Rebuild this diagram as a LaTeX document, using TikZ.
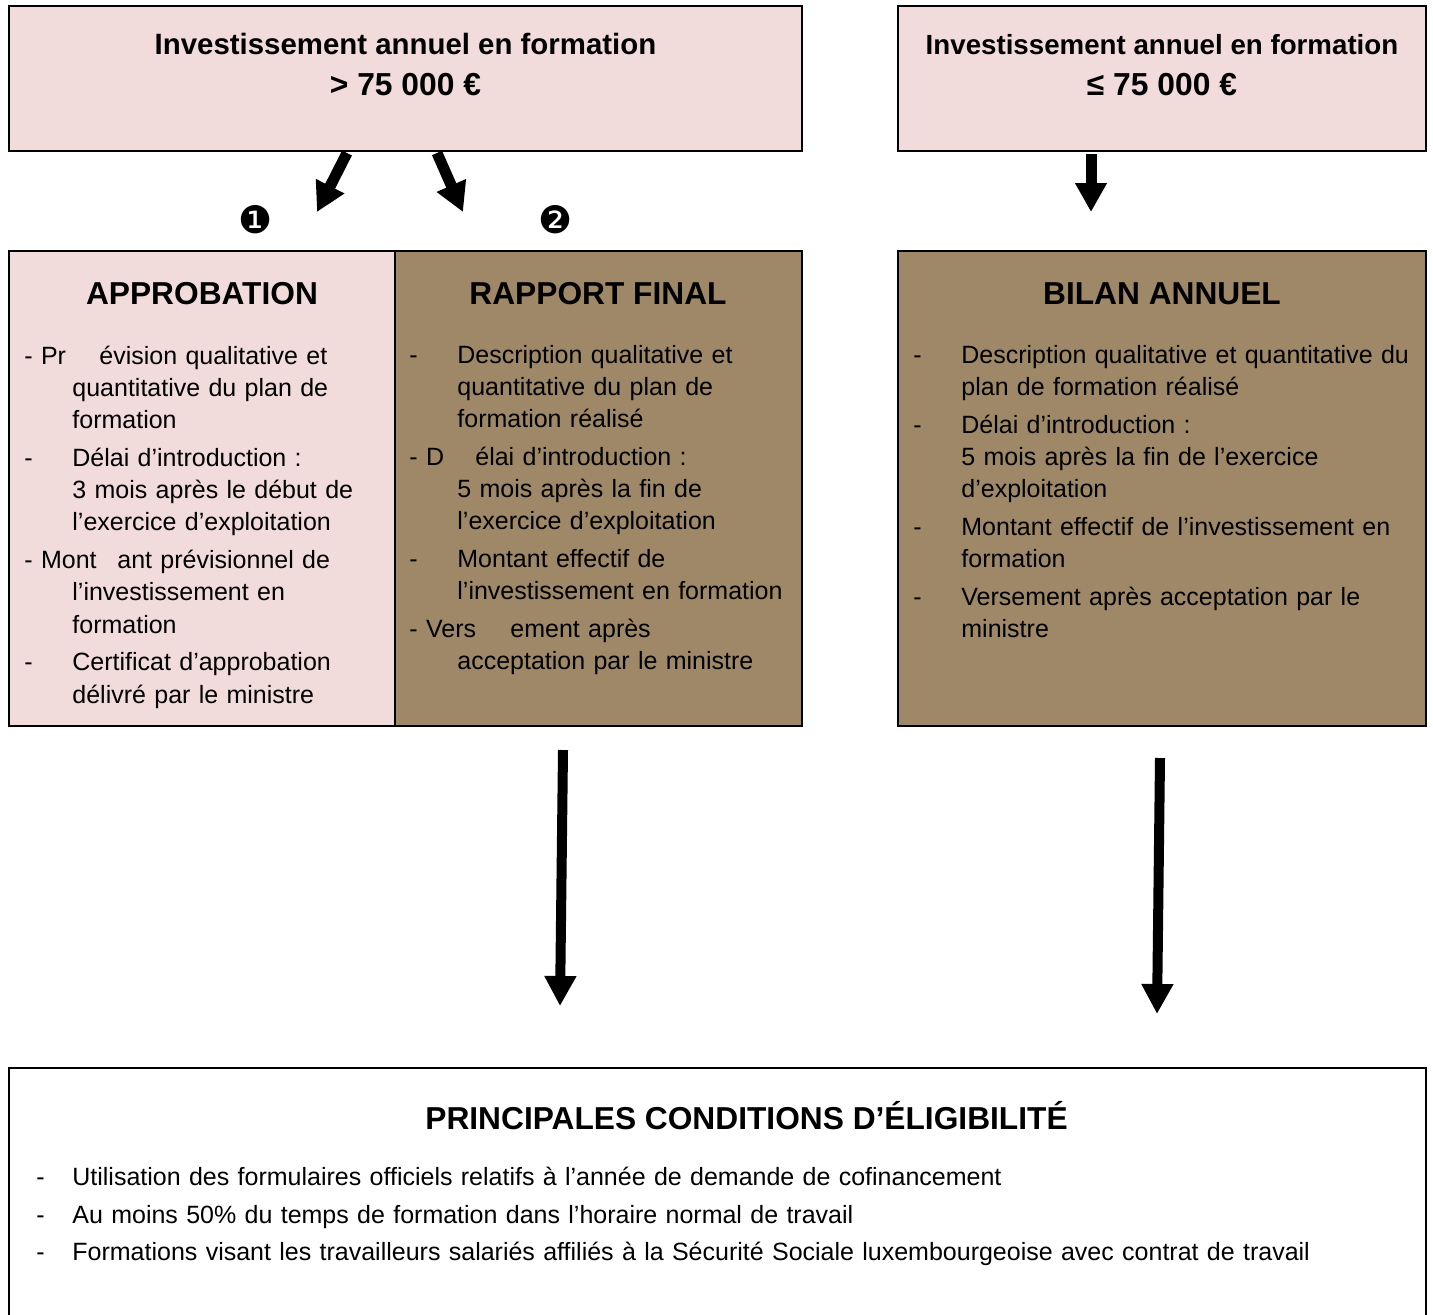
\documentclass[tikz,border=0pt]{standalone}
\usepackage{fontspec}
\setmainfont{Liberation Sans}
\newfontfamily\dingfont{DejaVu Sans}
\usetikzlibrary{arrows.meta}
\definecolor{rose}{RGB}{242,220,219}
\definecolor{taupe}{RGB}{158,136,104}
\newcommand{\bodyfont}{\fontsize{12.5}{16.1}\selectfont}
\newcommand{\headfont}{\fontsize{14.7}{20.5}\selectfont\bfseries}
\newcommand{\smallheadfont}{\fontsize{13.85}{20.5}\selectfont\bfseries}
\newcommand{\amountfont}{\fontsize{15.9}{20.5}\selectfont}
\newcommand{\titlefont}{\fontsize{15.85}{19}\selectfont\bfseries}
\newcommand{\itm}[2][24pt]{\par\parskip=2.8pt\relax\hangindent=24pt\hangafter=1
  \noindent\strut\makebox[#1][l]{#2}}
\tikzstyle{box}=[draw, line width=1pt, inner sep=0pt, outer sep=0pt]
\tikzstyle{head}=[inner sep=0pt, align=center, font=\headfont, anchor=north]
\tikzstyle{title}=[inner sep=0pt, font=\titlefont, anchor=base]
\tikzstyle{list}=[inner sep=0pt, anchor=north west, align=left, font=\bodyfont]
\tikzstyle{num}=[inner sep=0pt, font=\dingfont\fontsize{19}{19}\selectfont]
\tikzstyle{flow}=[-{Triangle[length=14.5pt,width=15pt]}, line width=5.5pt]
\tikzstyle{longflow}=[-{Triangle[length=15pt,width=15pt]}, line width=5pt]

\begin{document}
\begin{tikzpicture}
  \begin{scope}[x=0.5pt, y=-0.5pt]
    \useasboundingbox (0,0) rectangle (1433,1314);

    % boxes
    \node (topL) at (405.5,78.5) [box, fill=rose, minimum width=396.5pt, minimum height=72.5pt]{};
    \node (topR) at (1162,78.5) [box, fill=rose, minimum width=264pt, minimum height=72.5pt]{};
    \node (appro) at (202,488.5) [box, fill=rose, minimum width=193pt, minimum height=237.5pt]{};
    \node (rapport) at (598.5,488.5) [box, fill=taupe, minimum width=203.5pt, minimum height=237.5pt]{};
    \node (bilan) at (1162,488.5) [box, fill=taupe, minimum width=264pt, minimum height=237.5pt]{};
    \node (cond) at (717.5,1204) [box, minimum width=708.5pt, minimum height=136pt]{};

    % headings
    \node (topLtxt) at (405.5,33) [head]{Investissement annuel en formation\\{\amountfont > 75 000 €}};
    \node (topRtxt) at (1162,34) [head, font=\smallheadfont]{Investissement annuel en formation\\{\amountfont ≤ 75 000 €}};
    \node (approT) at (202,304) [title]{APPROBATION};
    \node (rapportT) at (598,304) [title]{RAPPORT FINAL};
    \node (bilanT) at (1162,304) [title]{BILAN ANNUEL};
    \node (condT) at (746.5,1129) [title]{PRINCIPALES CONDITIONS D’ÉLIGIBILITÉ};

    % lists
    \node (approL) at (24,326) [list, text width=185pt]{%
      \itm[37.5pt]{- Pr}évision qualitative et\newline quantitative du plan de\newline formation
      \itm{-}Délai d’introduction :\newline 3 mois après le début de\newline l’exercice d’exploitation
      \itm[46.5pt]{- Mont}ant prévisionnel de\newline l’investissement en\newline formation
      \itm{-}Certificat d’approbation\newline délivré par le ministre\par};
    \node (rapportL) at (409,325) [list, text width=200pt]{%
      \itm{-}Description qualitative et\newline quantitative du plan de\newline formation réalisé
      \itm[33pt]{- D}élai d’introduction :\newline 5 mois après la fin de\newline l’exercice d’exploitation
      \itm{-}Montant effectif de\newline l’investissement en formation
      \itm[50.5pt]{- Vers}ement après\newline acceptation par le ministre\par};
    \node (bilanL) at (913,325) [list, text width=255pt]{%
      \itm{-}Description qualitative et quantitative du\newline plan de formation réalisé
      \itm{-}Délai d’introduction :\newline 5 mois après la fin de l’exercice\newline d’exploitation
      \itm{-}Montant effectif de l’investissement en\newline formation
      \itm{-}Versement après acceptation par le\newline ministre\par};
    \node (condL) at (36,1147) [list, text width=690pt]{%
      \itm[18pt]{-}Utilisation des formulaires officiels relatifs à l’année de demande de cofinancement
      \itm[18pt]{-}Au moins 50\% du temps de formation dans l’horaire normal de travail
      \itm[18pt]{-}Formations visant les travailleurs salariés affiliés à la Sécurité Sociale luxembourgeoise avec contrat de travail\par};

    % numbers
    \node (one) at (256,220) [num]{❶};
    \node (two) at (556,220) [num]{❷};

    % arrows
    \coordinate (s1) at (347,153);  \coordinate (e1) at (317,212);
    \coordinate (s2) at (437,153);  \coordinate (e2) at (463,212);
    \coordinate (s3) at (1091,154); \coordinate (e3) at (1091,212);
    \coordinate (s4) at (563,750);  \coordinate (e4) at (560,1006);
    \coordinate (s5) at (1160,758); \coordinate (e5) at (1157,1014);

    \foreach \u/\v in {s1/e1,s2/e2,s3/e3}
      \draw [flow] (\u) to (\v);
    \foreach \u/\v in {s4/e4,s5/e5}
      \draw [longflow] (\u) to (\v);
  \end{scope}
\end{tikzpicture}
\end{document}
